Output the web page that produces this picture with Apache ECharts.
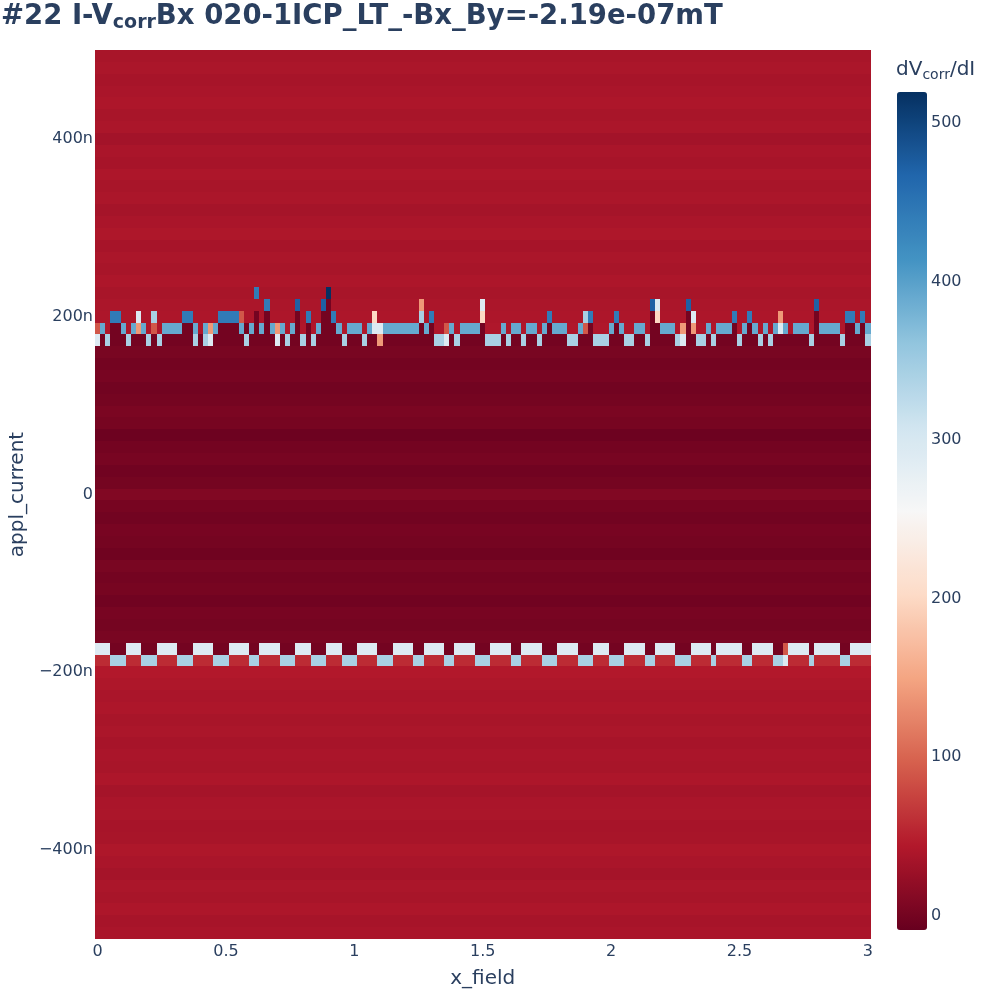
<!DOCTYPE html>
<html lang="en">
<head>
    <meta charset="UTF-8">
    <title>I-V corr Bx heatmap</title>
    <style>
        html, body { margin: 0; padding: 0; background: #fff; }
        #main { width: 1000px; height: 1000px; }
    </style>
</head>
<body>
<div id="main"></div>
<script src="https://cdn.jsdelivr.net/npm/echarts@6/dist/echarts.min.js"></script>
<script>
    // x_field: 151 columns, 0 .. 3 in steps of 0.02
    const xField = Array.from({length: 151}, (_, i) => +(i * 0.02).toFixed(2));
    // appl_current (nA): 75 rows, centres -493.3 .. 493.3, row height 13.33n
    const applCurrent = Array.from({length: 75}, (_, r) => (r - 37) * 1000 / 75);

    // base level of every row, bottom (k=-37) to top (k=37)
    const rowLevel = [
        38, 36, 40, 37, 39, 35, 38, 41, 37, 36, 39, 38, 35, 40, 37, 38, 36, 39, 37, 40, 38, 41, 44,
        58, 1,
        4, 1, 3, -2, 2, 0, 4, -3, 1, 3, -1, 2, 9, 1, -2, 3, 0, -5, 2, 5, 1, -1, 3, 0, 4,
        2, 42, 40, 39, 37,
        40, 37, 39, 36, 41, 38, 35, 39, 37, 40, 36, 38, 33, 39, 37, 40, 38, 36, 39, 37
    ];

    // switching rows, one letter per column (R = row level)
    const patternRowK = [17, 16, 15, 14, 13, -13, -14];
    const patternRows = [
        'RRRRRRRRRR RRRRRRRRRR RRRRRRRRRR RBRRRRRRRR RRRRRNRRRR RRRRRRRRRR RRRRRRRRRR RRRRRRRRRR RRRRRRRRRR RRRRRRRRRR RRRRRRRRRR RRRRRRRRRR RRRRRRRRRR RRRRRRRRRR RRRRRRRRRR R',
        'RRRRRRRRRR RRRRRRRRRR RRRRRRRRRR RRRBRRRRRb RRRRbDRRRR RRRRRRRRRR RRRORRRRRR RRRRRWRRRR RRRRRRRRRR RRRRRRRRRR RRRRRRRRbW RRRRRbRRRR RRRRRRRRRR RRRRRRRRRR bRRRRRRRRR R',
        'RRRBBRRRWR RLRRRRRBBR RRRRBBBBSR RDRDRRRRRD RBRRDDBRRR RRRRPRRRRR RRRLRBRRRR RRRRRPRRRR RRRRRRRRBR RRRRRLBRRR RBRRRRRRDP RRRRRDWRRR RRRRBRRBRR RRRORRRRRR DRRRRRBBRB R',
        'SMRDDMRMOM RSRMMMMDDM RMOMDDDDMD MDMDMOMRMD RDRMDDDMRM MMRMWWMMMM MMMDMDRRSM RMMMMDRRRM RMMRMMRMDM MMRRMSDRRR MDMRRMMRDD MMMRODORRM RMMMDRMDMR MRMWMRMMMR DMMMMRDDMD M',
        'WDLDDDLDDD LDLDDDDDDL DLWDDDDDDL DDDDDWDLDD LDLDDDDDLD DDLDDODDDD DDDDDDLLWD LDDDDDLLLD LDDLDDLDDD DDLLDDDLLL DDDLLDDLDD DDDLWDDLLD LDDDDLDDDL DLDDDDDDDL DDDDDLDDDD L',
        'WWWDDDWWWD DDWWWWDDDW WWWDDDWWWW DDWWWWDDDW WWDDDWWWDD DWWWWDDDWW WWDDWWWWDD WWWWDDDWWW WDDWWWWDDD WWWWDDDWWW DDDWWWWDDW WWWDDDWWWW DWWWWWDDWW WWDDSWWWWD WWWWWDDWWW W',
        'RRRLLLRRRL LLRRRRLLLR RRRLLLRRRR LLRRRRLLLR RRLLLRRRLL LRRRRLLLRR RRLLRRRRLL RRRRLLLRRR RLLRRRRLLL RRRRLLLRRR LLLRRRRLLR RRRLLLRRRR LRRRRRLLRR RRLLWRRRRL RRRRRLLRRR R'
    ];
    const codeValue = {D: 0, S: 90, O: 140, P: 200, W: 292, L: 342, M: 390, B: 442, b: 472, N: 519};

    const cbTicks = [0, 100, 200, 300, 400, 500];
    const rdbu = ['#67001f', '#b2182b', '#d6604d', '#f4a582', '#fddbc7', '#f7f7f7',
        '#d1e5f0', '#92c5de', '#4393c3', '#2166ac', '#053061'];

    const cells = [];
    applCurrent.forEach((y, r) => {
        const k = r - 37;
        const p = patternRowK.indexOf(k);
        const row = p >= 0 ? patternRows[p].replace(/ /g, '') : null;
        xField.forEach((x, c) => {
            let v = rowLevel[r];
            if (row && row[c] !== 'R') v = codeValue[row[c]];
            cells.push([x, y, v]);
        });
    });

    const halfX = 0.01, halfY = 500 / 75;
    const ink = '#2a3f5f';
    const font = 'DejaVu Sans';

    const myChart = echarts.init(document.getElementById('main'));
    const option = {
        animation: false,
        title: [{
            text: '{m|#22 I-V}{s|corr}{m|Bx 020-1ICP_LT_-Bx_By=-2.19e-07mT}',
            left: 1, top: 0, padding: 0,
            textStyle: {
                rich: {
                    m: {fontFamily: font, fontWeight: 'bold', fontSize: 27.5, lineHeight: 33, color: ink},
                    s: {fontFamily: font, fontWeight: 'bold', fontSize: 19, lineHeight: 19, color: ink, verticalAlign: 'bottom'}
                }
            }
        }, {
            text: '{m|dV}{s|corr}{m|/dI}',
            left: 896, top: 58, padding: 0,
            textStyle: {
                fontWeight: 'normal',
                rich: {
                    m: {fontFamily: font, fontWeight: 'normal', fontSize: 20, lineHeight: 24, color: ink},
                    s: {fontFamily: font, fontWeight: 'normal', fontSize: 14, lineHeight: 14, color: ink, verticalAlign: 'bottom'}
                }
            }
        }],
        grid: [
            {left: 94, top: 50, width: 776.5, height: 889},
            {left: 897, top: 92, width: 30, height: 838}
        ],
        xAxis: [{
            type: 'value', min: -0.01, max: 3.01, interval: 0.01,
            name: 'x_field', nameLocation: 'middle', nameGap: 30,
            nameTextStyle: {fontFamily: font, fontSize: 20, color: ink},
            axisLine: {show: false}, axisTick: {show: false}, splitLine: {show: false},
            axisLabel: {
                fontFamily: font, fontSize: 16, color: ink, margin: 5,
                formatter: v => (v >= 0 && v <= 3 && Math.abs(v * 2 - Math.round(v * 2)) < 1e-6) ? String(+v.toFixed(1)) : ''
            }
        }, {
            gridIndex: 1, type: 'value', min: 0, max: 1, show: false
        }],
        yAxis: [{
            type: 'value', min: -500, max: 500, interval: 100,
            name: 'appl_current', nameLocation: 'middle', nameGap: 62,
            nameTextStyle: {fontFamily: font, fontSize: 20, color: ink},
            axisLine: {show: false}, axisTick: {show: false}, splitLine: {show: false},
            axisLabel: {
                fontFamily: font, fontSize: 16, color: ink, margin: 2,
                formatter: v => {
                    if (Math.round(v) % 200 !== 0) return '';
                    if (v === 0) return '0';
                    return (v < 0 ? '\u2212' : '') + Math.abs(v) + 'n';
                }
            }
        }, {
            gridIndex: 1, type: 'value', position: 'right', min: -9, max: 519.4, interval: 1,
            axisLine: {show: false}, axisTick: {show: false}, splitLine: {show: false},
            axisLabel: {
                fontFamily: font, fontSize: 16, color: ink, margin: 4,
                formatter: v => cbTicks.indexOf(Math.round(v)) >= 0 && Math.abs(v - Math.round(v)) < 1e-6 ? String(Math.round(v)) : ''
            }
        }],
        visualMap: {
            type: 'continuous', min: -9, max: 519.4, dimension: 2, seriesIndex: 0,
            calculable: false, hoverLink: false,
            itemWidth: 30, itemHeight: 838, left: 897, top: 92, padding: 0,
            inRange: {color: rdbu}
        },
        series: [{
            type: 'custom',
            coordinateSystem: 'cartesian2d',
            xAxisIndex: 0, yAxisIndex: 0,
            encode: {x: 0, y: 1},
            progressive: 0,
            renderItem: function (params, api) {
                const x = api.value(0), y = api.value(1);
                const p0 = api.coord([x - halfX, y + halfY]);
                const p1 = api.coord([x + halfX, y - halfY]);
                const x0 = Math.round(p0[0]), y0 = Math.round(p0[1]);
                const x1 = Math.round(p1[0]), y1 = Math.round(p1[1]);
                return {
                    type: 'rect',
                    shape: {x: x0, y: y0, width: x1 - x0, height: y1 - y0},
                    style: {fill: api.visual('color')}
                };
            },
            data: cells
        }]
    };
    myChart.setOption(option);
</script>
</body>
</html>
